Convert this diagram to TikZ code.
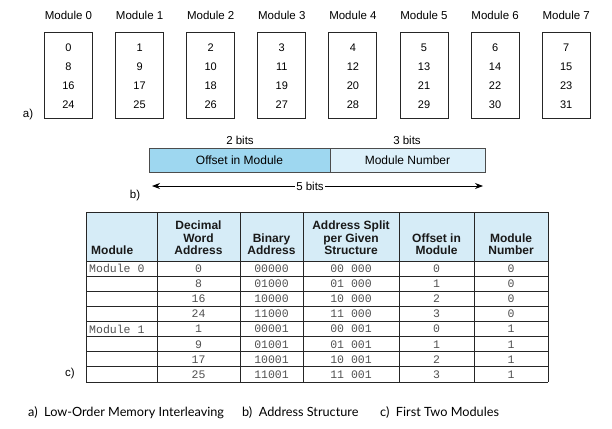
\documentclass[tikz,border=0pt]{standalone}
\usepackage{fontspec}
\setmainfont{Liberation Sans}
\setmonofont{Liberation Mono}
\newfontfamily\capfont{Lato}
\usetikzlibrary{arrows.meta}
\definecolor{offblue}{RGB}{158,215,240}
\definecolor{modblue}{RGB}{220,240,250}
\definecolor{hdrblue}{RGB}{214,236,247}
\definecolor{celltext}{RGB}{80,80,80}
\tikzset{
  modbox/.style={draw=black!85, line width=0.9pt, minimum width=48pt, minimum height=86pt, inner sep=0pt},
  modlabel/.style={font=\fontsize{11.5}{12}\selectfont, inner sep=0pt},
  numtxt/.style={font=\fontsize{11}{12}\selectfont, inner sep=0pt},
  fieldbox/.style={draw=black!70, line width=0.7pt, minimum height=24pt, inner sep=0pt, font=\fontsize{12}{13}\selectfont},
  hdr/.style={font=\bfseries\fontsize{12}{12.5}\selectfont, align=center, inner sep=0pt, anchor=south, text=black!90},
  cell/.style={font=\ttfamily\fontsize{11.5}{12}\selectfont, text=celltext, inner sep=0pt},
  tline/.style={draw=black!85, line width=0.9pt},
  partlbl/.style={font=\fontsize{11.5}{12}\selectfont, inner sep=0pt},
  caplbl/.style={font=\capfont\fontsize{12.7}{15}\selectfont, inner sep=0pt, anchor=base west}
}
\begin{document}
\begin{tikzpicture}[x=1pt,y=-1pt]
\useasboundingbox (0,0) rectangle (612,428);
% ---- a) modules
\foreach \i in {0,...,7}{
  \pgfmathsetmacro{\cx}{68.5+71.1*\i}
  \node[modlabel] (ml\i) at (\cx,15) {Module \i};
  \node[modbox] (m\i) at (\cx,75) {};
  \pgfmathtruncatemacro{\b}{\i+8}
  \pgfmathtruncatemacro{\c}{\i+16}
  \pgfmathtruncatemacro{\d}{\i+24}
  \node[numtxt] (n\i a) at (\cx,48) {\i};
  \node[numtxt] (n\i b) at (\cx,66.5) {\b};
  \node[numtxt] (n\i c) at (\cx,85.5) {\c};
  \node[numtxt] (n\i d) at (\cx,104.5) {\d};
}
\node[partlbl] (pa) at (28,115) {a)};
% ---- b) address structure
\node[fieldbox, fill=offblue, minimum width=181pt] (off) at (239.5,160) {Offset in Module};
\node[fieldbox, fill=modblue, minimum width=155pt] (modn) at (407.5,160) {Module Number};
\node[partlbl] (two) at (240,140) {2 bits};
\node[partlbl] (three) at (407,140) {3 bits};
\coordinate (arL) at (152,186);
\coordinate (arR) at (483,186);
\draw[{Stealth[length=8pt,width=6pt]}-{Stealth[length=8pt,width=6pt]}, line width=0.8pt] (arL) -- (arR);
\node[partlbl, fill=white, inner xsep=1pt] (five) at (310,186) {5 bits};
\node[partlbl] (pb) at (135,196) {b)};
% ---- c) table
\fill[hdrblue] (86,212) rectangle (548,261);
\foreach \x in {86,157,240,303,399,474,548}{
  \draw[tline] (\x,212) -- (\x,382);
}
\draw[tline] (86,212) -- (548,212);
\foreach \k in {0,...,8}{
  \draw[tline] (86,261+15.125*\k) -- (548,261+15.125*\k);
}
\node[hdr, anchor=south west] (h1) at (91,255) {Module};
\node[hdr] (h2) at (198.5,255) {Decimal\\Word\\Address};
\node[hdr] (h3) at (271.5,255) {Binary\\Address};
\node[hdr] (h4) at (351,255) {Address Split\\per Given\\Structure};
\node[hdr] (h5) at (436.5,255) {Offset in\\Module};
\node[hdr] (h6) at (511,255) {Module\\Number};
\foreach \k/\dec/\bin/\spl/\off/\mn in {
  0/0/00000/00 000/0/0, 1/8/01000/01 000/1/0, 2/16/10000/10 000/2/0, 3/24/11000/11 000/3/0,
  4/1/00001/00 001/0/1, 5/9/01001/01 001/1/1, 6/17/10001/10 001/2/1, 7/25/11001/11 001/3/1}{
  \pgfmathsetmacro{\ry}{268.6+15.125*\k}
  \node[cell] (d\k) at (198.5,\ry) {\dec};
  \node[cell] (b\k) at (271.5,\ry) {\bin};
  \node[cell] (s\k) at (351,\ry) {\spl};
  \node[cell] (o\k) at (436.5,\ry) {\off};
  \node[cell] (u\k) at (511,\ry) {\mn};
}
\node[cell, anchor=west] (r0) at (89,268.6) {Module 0};
\node[cell, anchor=west] (r4) at (89,329.1) {Module 1};
\node[partlbl] (pc) at (70,374) {c)};
% ---- captions
\node[caplbl] (ca) at (28,416) {a)\ \ Low-Order Memory Interleaving};
\node[caplbl] (cb) at (242,416) {b)\ \ Address Structure};
\node[caplbl] (cc) at (380,416) {c)\ \ First Two Modules};
\end{tikzpicture}
\end{document}
